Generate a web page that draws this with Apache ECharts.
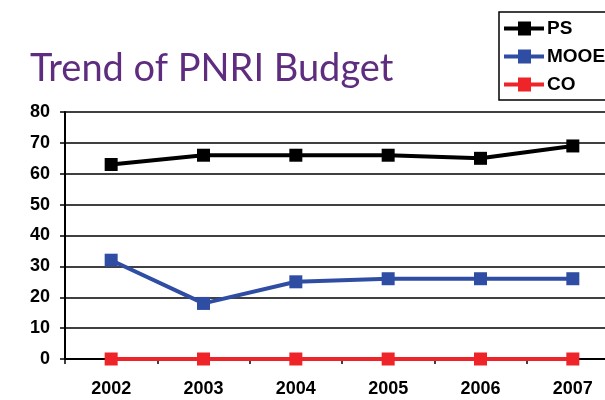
<!DOCTYPE html>
<html><head><meta charset="utf-8">
<script src="https://cdn.jsdelivr.net/npm/echarts@6/dist/echarts.min.js"></script>
<style>html,body{margin:0;padding:0;background:#fff}#c{width:605px;height:400px}</style>
</head><body><div id="c"></div>
<script>
var years = ['2002','2003','2004','2005','2006','2007'];
var ps = [63, 66, 66, 66, 65, 69];
var mooe = [32, 18, 25, 26, 26, 26];
var co = [0, 0, 0, 0, 0, 0];
var yTicks = [0, 10, 20, 30, 40, 50, 60, 70, 80];

var chart = echarts.init(document.getElementById('c'));
function ser(name, data, color) {
  return {
    name: name, type: 'line', data: data,
    symbol: 'rect', symbolSize: 13,
    lineStyle: { color: color, width: 4 },
    itemStyle: { color: color },
    animation: false
  };
}
var legendIcon = 'path://M0,5H14V0H27V5H40V9H27V14H14V9H0Z';
chart.setOption({
  animation: false,
  title: {
    text: 'Trend of PNRI Budget', left: 25, top: 45,
    textStyle: { fontFamily: 'Lato', fontWeight: 'normal', fontSize: 38, color: '#5e2d7f' }
  },
  legend: {
    orient: 'vertical', left: 499, top: 12,
    itemWidth: 40, itemHeight: 14, itemGap: 9,
    padding: [7, 30, 6, 5],
    borderColor: '#000', borderWidth: 1.5,
    icon: legendIcon,
    textStyle: { fontFamily: 'Liberation Sans', fontWeight: 'bold', fontSize: 19, color: '#000', padding: [0,0,0,-2] },
    data: ['PS', 'MOOE', 'CO']
  },
  grid: { left: 65, top: 112, width: 554, height: 247, outerBoundsMode: 'none', containLabel: false },
  xAxis: {
    type: 'category', data: years, boundaryGap: true,
    axisLine: { lineStyle: { color: '#000', width: 2 } },
    axisTick: { show: true, alignWithLabel: false, length: 5, lineStyle: { color: '#000', width: 1.5 } },
    axisLabel: { fontFamily: 'Liberation Sans', fontWeight: 'bold', fontSize: 18, color: '#000', margin: 21 }
  },
  yAxis: {
    type: 'value', min: 0, max: 80, interval: 10,
    axisLine: { show: true, lineStyle: { color: '#000', width: 2 } },
    axisTick: { show: true, length: 5, lineStyle: { color: '#000', width: 1.5 } },
    axisLabel: { fontFamily: 'Liberation Sans', fontWeight: 'bold', fontSize: 18, color: '#000', margin: 15,
      formatter: function (v) { return yTicks.indexOf(v) >= 0 ? String(v) : ''; } },
    splitLine: { show: true, lineStyle: { color: '#000', width: 1.5 } }
  },
  series: [
    ser('PS', ps, '#000000'),
    ser('MOOE', mooe, '#2f4ea3'),
    ser('CO', co, '#ee2429')
  ]
});
</script></body></html>
